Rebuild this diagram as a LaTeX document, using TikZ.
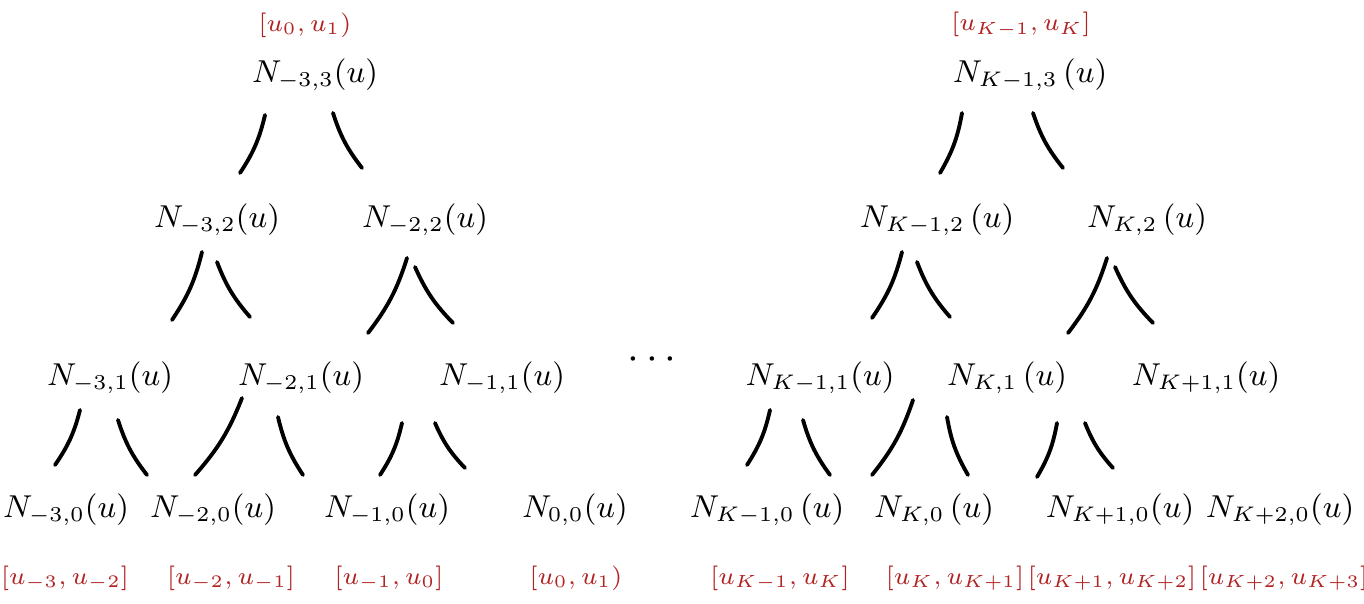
\documentclass[tikz,border=0pt]{standalone}
\usetikzlibrary{positioning}
\definecolor{knotred}{RGB}{178,34,34}
\begin{document}
\begin{tikzpicture}[
		x=0.01cm, y=-0.01cm,
		basis/.style={font=\small, inner sep=2pt},
		knot/.style={font=\scriptsize, text=knotred, inner sep=1pt},
		link/.style={line width=1.1pt, line cap=round}
	]
		\useasboundingbox (0,0) rectangle (1364,603);
		% level 3
		\node[basis] (m3p3) at (315,75) {$N_{-3,3}(u)$};
		\node[basis] (km1p3) at (1030,75) {$N_{K-1,3}\,(u)$};
		% level 2
		\node[basis] (m3p2) at (217,220) {$N_{-3,2}(u)$};
		\node[basis] (m2p2) at (425,220) {$N_{-2,2}(u)$};
		\node[basis] (km1p2) at (937,220) {$N_{K-1,2}\,(u)$};
		\node[basis] (kp2) at (1147,220) {$N_{K,2}\,(u)$};
		% level 1
		\node[basis] (m3p1) at (110,378) {$N_{-3,1}(u)$};
		\node[basis] (m2p1) at (301,378) {$N_{-2,1}(u)$};
		\node[basis] (m1p1) at (502,378) {$N_{-1,1}(u)$};
		\node[basis] (km1p1) at (820,378) {$N_{K-1,1}(u)$};
		\node[basis] (kp1) at (1007,378) {$N_{K,1}\,(u)$};
		\node[basis] (k1p1) at (1206,378) {$N_{K+1,1}(u)$};
		\node[font=\large] (dots) at (652,360) {$\cdots$};
		% level 0
		\node[basis] (m3p0) at (66,510) {$N_{-3,0}(u)$};
		\node[basis] (m2p0) at (213,510) {$N_{-2,0}(u)$};
		\node[basis] (m1p0) at (387,510) {$N_{-1,0}(u)$};
		\node[basis] (z0p0) at (575,510) {$N_{0,0}(u)$};
		\node[basis] (km1p0) at (767,510) {$N_{K-1,0}\,(u)$};
		\node[basis] (kp0) at (934,510) {$N_{K,0}\,(u)$};
		\node[basis] (k1p0) at (1120,510) {$N_{K+1,0}(u)$};
		\node[basis] (k2p0) at (1280,510) {$N_{K+2,0}(u)$};
		% knot spans
		\node[knot] (top1) at (305,25) {$[u_0,u_1)$};
		\node[knot] (top2) at (1021,25) {$[u_{K-1},u_K]$};
		\foreach \x/\nm/\lab in {65/s1/{[u_{-3},u_{-2}]}, 231/s2/{[u_{-2},u_{-1}]},
			389/s3/{[u_{-1},u_0]}, 576/s4/{[u_0,u_1)}, 780/s5/{[u_{K-1},u_K]},
			955/s6/{[u_K,u_{K+1}]}, 1112/s7/{[u_{K+1},u_{K+2}]}, 1284/s8/{[u_{K+2},u_{K+3}]}} {
			\node[knot] (\nm) at (\x,578) {$\lab$};
		}
		% strokes to the left child
		\foreach \p/\c/\s/\e in {m3p3/m3p2/{-50,40}/{23,-47}, m3p2/m3p1/{-15,32}/{62,-58},
			m2p2/m2p1/{-18,38}/{67,-45}, m3p1/m3p0/{-30,32}/{-11,-45},
			m2p1/m2p0/{-59,20}/{-18,-35}, m1p1/m1p0/{-100,45}/{-7,-35},
			km1p3/km1p2/{-68,38}/{3,-47}, km1p2/km1p1/{-35,32}/{52,-60},
			kp2/kp1/{-40,38}/{61,-45}, km1p1/km1p0/{-50,32}/{-20,-45},
			kp1/kp0/{-94,22}/{-62,-35}, k1p1/k1p0/{-149,45}/{-83,-33}} {
			\draw[link] ([shift={(\s)}]\p.center) to[bend left=10] ([shift={(\e)}]\c.center);
		}
		% strokes to the right child
		\foreach \p/\c/\s/\e in {m3p3/m2p2/{18,38}/{-63,-52}, m3p2/m2p1/{0,42}/{-51,-61},
			m2p2/m1p1/{-10,47}/{-49,-55}, m3p1/m2p0/{8,42}/{-66,-35},
			m2p1/m1p0/{-23,39}/{-84,-35}, m1p1/z0p0/{-67,45}/{-110,-42},
			km1p3/kp2/{3,38}/{-84,-52}, km1p2/kp1/{-20,42}/{-57,-61},
			kp2/k1p1/{-32,47}/{-53,-55}, km1p1/kp0/{-17,42}/{-104,-35},
			kp1/k1p0/{-60,39}/{-152,-35}, k1p1/k2p0/{-121,45}/{-167,-42}} {
			\draw[link] ([shift={(\s)}]\p.center) to[bend right=10] ([shift={(\e)}]\c.center);
		}
	\end{tikzpicture}
\end{document}
